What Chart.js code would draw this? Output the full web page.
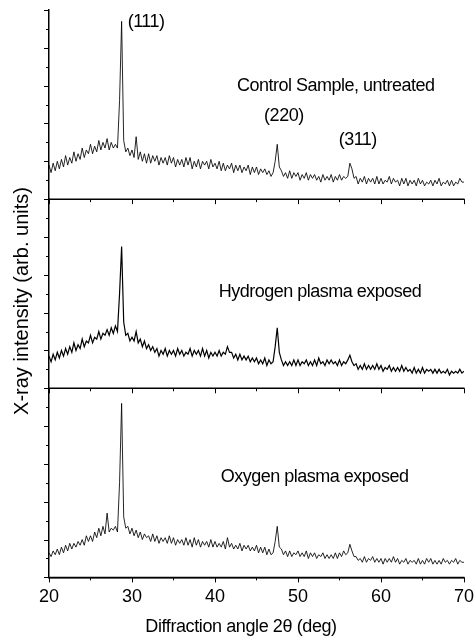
<!DOCTYPE html>
<html>
<head>
<meta charset="utf-8">
<script src="https://cdn.jsdelivr.net/npm/chart.js@4.4.1/dist/chart.umd.min.js"></script>
<style>
html,body{margin:0;padding:0;background:#fff;}
canvas{display:block;}
</style>
</head>
<body>
<canvas id="c" width="476" height="643"></canvas>
<script>
// Diffraction angle 2θ (deg)
const angles = [20,20.25,20.5,20.75,21,21.25,21.5,21.75,22,22.25,22.5,22.75,23,23.25,23.5,23.75,24,24.25,24.5,24.75,25,25.25,25.5,25.75,26,26.25,26.5,26.75,27,27.25,27.5,27.75,28,28.25,28.5,28.75,29,29.25,29.5,29.75,30,30.25,30.5,30.75,31,31.25,31.5,31.75,32,32.25,32.5,32.75,33,33.25,33.5,33.75,34,34.25,34.5,34.75,35,35.25,35.5,35.75,36,36.25,36.5,36.75,37,37.25,37.5,37.75,38,38.25,38.5,38.75,39,39.25,39.5,39.75,40,40.25,40.5,40.75,41,41.25,41.5,41.75,42,42.25,42.5,42.75,43,43.25,43.5,43.75,44,44.25,44.5,44.75,45,45.25,45.5,45.75,46,46.25,46.5,46.75,47,47.25,47.5,47.75,48,48.25,48.5,48.75,49,49.25,49.5,49.75,50,50.25,50.5,50.75,51,51.25,51.5,51.75,52,52.25,52.5,52.75,53,53.25,53.5,53.75,54,54.25,54.5,54.75,55,55.25,55.5,55.75,56,56.25,56.5,56.75,57,57.25,57.5,57.75,58,58.25,58.5,58.75,59,59.25,59.5,59.75,60,60.25,60.5,60.75,61,61.25,61.5,61.75,62,62.25,62.5,62.75,63,63.25,63.5,63.75,64,64.25,64.5,64.75,65,65.25,65.5,65.75,66,66.25,66.5,66.75,67,67.25,67.5,67.75,68,68.25,68.5,68.75,69,69.25,69.5,69.75,70];

// X-ray intensity (arb. units), each panel read as % of panel height
const controlSample = [
18,14,19,15, 20,16,21,17, 23,18,22,19, 25,20,24,21, 27,22,26,24,
29,24,28,25, 31,26,30,27, 32,26,30,27, 29,27,52,94, 31,25,27,23,
26,22,33,21, 25,20,24,19, 24,19,23,20, 23,18,22,19, 22,18,23,19,
22,17,21,18, 21,17,22,18, 22,16,20,17, 21,16,20,18, 20,16,21,17,
19,16,20,15, 19,15,18,16, 19,14,18,15, 18,14,17,15, 18,13,17,14,
17,13,16,14, 16,13,15,12, 14,20,29,17, 15,12,14,11, 15,11,14,12,
14,10,13,11, 14,10,13,11, 13,10,12,9, 13,10,12,10, 13,9,12,10,
13,10,12,11, 12,19,16,11, 12,8,11,9, 12,8,11,9, 11,8,12,8,
11,8,10,9, 12,8,11,9, 10,7,11,8, 11,7,10,8, 10,7,11,8,
10,7,9,8, 10,7,10,8, 11,7,9,8, 10,7,10,7, 9,8,11,9,
9];

const hydrogenPlasma = [
17,14,18,15, 19,16,20,17, 21,18,22,19, 24,20,23,21, 26,22,25,24,
28,24,27,26, 30,26,29,28, 31,28,32,29, 33,30,50,75, 35,28,29,25,
27,25,30,24, 26,22,25,21, 23,20,22,19, 21,17,20,18, 21,17,20,18,
20,17,21,18, 20,17,19,18, 21,17,20,18, 20,17,21,17, 20,16,19,17,
19,17,20,17, 19,18,22,19, 19,16,18,15, 18,15,17,15, 17,14,16,14,
16,13,15,13, 16,12,15,13, 14,22,32,19, 15,12,14,12, 14,12,15,12,
15,12,14,13, 15,12,14,12, 15,12,16,13, 14,12,15,13, 15,13,14,12,
15,12,14,13, 15,17.5,14,12, 13,10,12,10, 13,10,12,10, 12,10,13,10,
12,9,11,10, 12,9,11,9, 11,9,12,9, 11,9,10,8, 11,8,10,8,
11,8,10,9, 10,8,10,8, 10,8,9,8, 10,7,9,8, 9,8,10,8,
9];

const oxygenPlasma = [
13,11,14,12, 15,12,16,13, 17,14,18,15, 18,16,19,17, 20,17,22,19,
22,19,24,21, 26,22,27,23, 34,24,26,25, 27,24,50,92, 32,26,27,23,
26,22,25,21, 24,20,23,21, 22,19,23,19, 22,18,21,19, 21,18,22,18,
21,17,20,18, 20,17,21,17, 20,16,21,17, 20,16,19,17, 19,16,20,16,
19,16,18,16, 19,15,21,16, 18,15,17,15, 18,14,17,15, 17,14,16,14,
17,13,16,13, 16,12,15,12, 13,19,27,16, 15,12,14,11, 14,11,13,12,
14,11,13,11, 14,10,13,11, 13,10,12,11, 13,10,12,10, 12,10,13,10,
13,11,14,12, 13,17.5,14,11, 11,9,10,8, 11,8,10,9, 11,8,10,8,
10,7,10,8, 10,8,11,8, 10,7,9,8, 10,7,9,8, 9,7,10,7,
9,7,10,8, 10,7,9,7, 9,7,10,8, 9,7,9,8, 10,7,9,8,
8];

const xTickLabels = ['20','30','40','50','60','70'];

const annotations = [
  {text:'(111)', axis:'yC', x:31.7, y:91},
  {text:'Control Sample, untreated', axis:'yC', x:54.55, y:57},
  {text:'(220)', axis:'yC', x:48.3, y:41.3},
  {text:'(311)', axis:'yC', x:57.2, y:28.6},
  {text:'Hydrogen plasma exposed', axis:'yH', x:52.65, y:48},
  {text:'Oxygen plasma exposed', axis:'yO', x:52.0, y:50.3}
];

const FONT = '"Liberation Sans", Arial, Helvetica, sans-serif';

function series(vals){ return angles.map((a,i)=>({x:a, y:vals[i]})); }

const axesPlugin = {
  id:'xrdAxes',
  afterDraw(chart){
    const ctx = chart.ctx, xs = chart.scales.x, area = chart.chartArea;
    ctx.save();
    ctx.strokeStyle = '#000';
    const line = (x1,y1,x2,y2)=>{ctx.beginPath();ctx.moveTo(x1,y1);ctx.lineTo(x2,y2);ctx.stroke();};
    ['yC','yH','yO'].forEach(id=>{
      const s = chart.scales[id];
      const yb = s.getPixelForValue(0);
      ctx.lineWidth = 1.5;
      line(area.left, yb, area.right+0.5, yb);
      ctx.lineWidth = 1;
      for(let v=0; v<=100; v+=10){
        const y = Math.round(s.getPixelForValue(v))+0.5;
        const len = (v%20===0)?5:3;
        line(area.left-len, y, area.left, y);
      }
      for(let a=20; a<=70; a+=5){
        const x = Math.round(xs.getPixelForValue(a))+0.5;
        const len = (a%10===0)?5:3;
        line(x, yb, x, yb+len);
      }
    });
    // annotations
    ctx.fillStyle = '#000';
    ctx.font = '18px ' + FONT;
    ctx.textAlign = 'center';
    ctx.textBaseline = 'alphabetic';
    try { ctx.letterSpacing = '-0.5px'; } catch(e){}
    annotations.forEach(a=>{
      const s = chart.scales[a.axis];
      ctx.fillText(a.text, xs.getPixelForValue(a.x), s.getPixelForValue(a.y));
    });
    // axis titles
    try { ctx.letterSpacing = '-0.4px'; } catch(e){}
    ctx.fillText('Diffraction angle 2\u03b8 (deg)', 241, 632);
    try { ctx.letterSpacing = '0px'; } catch(e){}
    ctx.font = '20px ' + FONT;
    ctx.translate(28, 301);
    ctx.rotate(-Math.PI/2);
    ctx.fillText('X-ray intensity (arb. units)', 0, 0);
    ctx.restore();
  }
};

const yAxis = () => ({
  type:'linear', min:0, max:100, stack:'xrd', stackWeight:1, position:'left',
  ticks:{display:false}, grid:{display:false, drawTicks:false},
  border:{display:true, color:'#000', width:1.5}
});

new Chart(document.getElementById('c'), {
  type:'line',
  data:{
    datasets:[
      {label:'Control Sample, untreated', data:series(controlSample), yAxisID:'yC', borderColor:'rgba(0,0,0,0.85)', borderWidth:1, pointRadius:0, tension:0},
      {label:'Hydrogen plasma exposed', data:series(hydrogenPlasma), yAxisID:'yH', borderColor:'#000', borderWidth:1.2, pointRadius:0, tension:0},
      {label:'Oxygen plasma exposed', data:series(oxygenPlasma), yAxisID:'yO', borderColor:'rgba(0,0,0,0.85)', borderWidth:1, pointRadius:0, tension:0}
    ]
  },
  options:{
    responsive:false, animation:false, devicePixelRatio:1,
    layout:{padding:{left:49, top:10, right:2, bottom:33}},
    plugins:{legend:{display:false}, tooltip:{enabled:false}},
    scales:{
      x:{type:'linear', position:'bottom', min:20, max:70,
         afterBuildTicks(scale){ scale.ticks = xTickLabels.map(t=>({value:Number(t)})); },
         ticks:{color:'#000', padding:2, maxRotation:0, font:{family:FONT, size:18}},
         grid:{display:true, drawOnChartArea:false, drawTicks:true, tickLength:7, color:'rgba(0,0,0,0)', tickColor:'rgba(0,0,0,0)'},
         border:{display:true, color:'#000', width:1.5}},
      yO: yAxis(),
      yH: yAxis(),
      yC: yAxis()
    }
  },
  plugins:[axesPlugin]
});
</script>
</body>
</html>
